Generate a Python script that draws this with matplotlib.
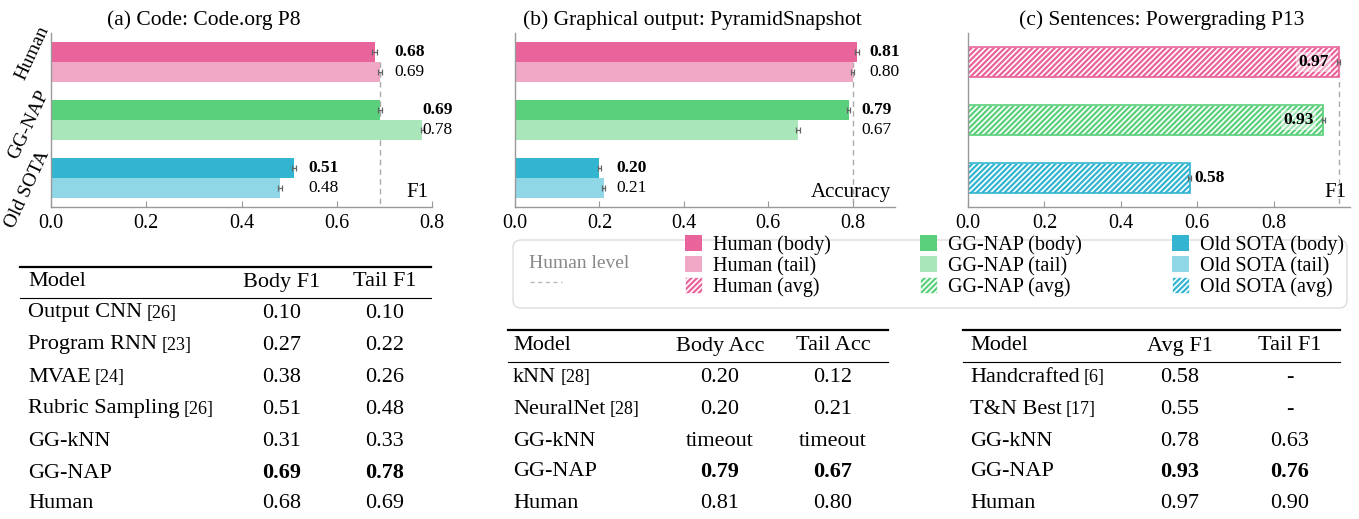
import numpy as np
import matplotlib.pyplot as plt
from matplotlib.patches import Patch, FancyBboxPatch
from matplotlib.lines import Line2D

plt.rcParams['font.family'] = ['Liberation Serif', 'DejaVu Serif']
plt.rcParams['hatch.linewidth'] = 1.2

# ---- data ----
groups = ['Human', 'GG-NAP', 'Old SOTA']
body_colors = ['#e8649a', '#5bd07c', '#33b5d2']
tail_colors = ['#f1a8c7', '#a9e7bb', '#8fd6e6']

code_body = [0.68, 0.69, 0.51]
code_tail = [0.69, 0.78, 0.48]
code_body_err = [0.005, 0.004, 0.005]
code_tail_err = [0.004, 0.003, 0.004]

pyr_body = [0.81, 0.79, 0.20]
pyr_tail = [0.80, 0.67, 0.21]
pyr_body_err = [0.005, 0.004, 0.004]
pyr_tail_err = [0.004, 0.005, 0.004]

pg_avg = [0.97, 0.93, 0.58]
pg_avg_err = [0.004, 0.004, 0.004]

human_level = [0.69, 0.80, 0.97]

# tables
tab_a_models = ['Output CNN', 'Program RNN', 'MVAE', 'Rubric Sampling', 'GG-kNN', 'GG-NAP', 'Human']
tab_a_cites = ['[26]', '[23]', '[24]', '[26]', '', '', '']
tab_a_body = ['0.10', '0.27', '0.38', '0.51', '0.31', '0.69', '0.68']
tab_a_tail = ['0.10', '0.22', '0.26', '0.48', '0.33', '0.78', '0.69']

tab_b_models = ['kNN', 'NeuralNet', 'GG-kNN', 'GG-NAP', 'Human']
tab_b_cites = ['[28]', '[28]', '', '', '']
tab_b_body = ['0.20', '0.20', 'timeout', '0.79', '0.81']
tab_b_tail = ['0.12', '0.21', 'timeout', '0.67', '0.80']

tab_c_models = ['Handcrafted', 'T&N Best', 'GG-kNN', 'GG-NAP', 'Human']
tab_c_cites = ['[6]', '[17]', '', '', '']
tab_c_avg = ['0.58', '0.55', '0.78', '0.93', '0.97']
tab_c_tail = ['-', '-', '0.63', '0.76', '0.90']

W, H = 1359, 519
fig = plt.figure(figsize=(W / 100, H / 100), dpi=100)
HATCH = '/' * 6
ylabel_shift = [-0.15, 0.08, 0.19]   # rotated group labels sit a bit off the group centres


def fx(x):
    return x / W


def fy(y):
    return 1 - y / H


def make_ax(left, right, xmax, title, title_x, xlabel):
    ax = fig.add_axes([fx(left), fy(207), (right - left) / W, (207 - 33) / H])
    ax.set_xlim(0, xmax)
    ax.set_ylim(2.5, -0.5)
    ax.set_xticks([0, 0.2, 0.4, 0.6, 0.8])
    ax.set_xticklabels(['0.0', '0.2', '0.4', '0.6', '0.8'])
    for s in ['top', 'right']:
        ax.spines[s].set_visible(False)
    for s in ['left', 'bottom']:
        ax.spines[s].set_color('#999999')
        ax.spines[s].set_linewidth(1.0)
    ax.tick_params(axis='x', direction='in', length=4, color='#999999', labelsize=14.5, pad=5)
    ax.set_yticks([])
    ax.set_title(title, fontsize=15.5, x=title_x, pad=6)
    ax.text(0.99, 0.03, xlabel, transform=ax.transAxes, ha='right', va='bottom', fontsize=15)
    return ax


err_kw = dict(ecolor='#666666', lw=0.9, capsize=2.2, capthick=0.9)


def paired(ax, body, tail, body_err, tail_err, xmax, level):
    y = np.arange(len(groups))
    h = 0.345
    ax.vlines(level, 0, 2.5, colors='#aaaaaa', linestyles=(0, (4, 3)), lw=1, zorder=0)
    ax.barh(y - h / 2, body, height=h, color=body_colors, xerr=body_err, error_kw=err_kw, zorder=2)
    ax.barh(y + h / 2, tail, height=h, color=tail_colors, xerr=tail_err, error_kw=err_kw, zorder=2)
    for i in range(len(groups)):
        tx = min(max(body[i], tail[i]) + 0.03, xmax - 0.021)
        ax.text(tx, y[i] - h / 2, f'{body[i]:.2f}', ha='left', va='center', fontsize=12.5,
                fontweight='bold', zorder=3)
        ax.text(tx, y[i] + h / 2, f'{tail[i]:.2f}', ha='left', va='center', fontsize=12.5, zorder=3)


# (a)
ax_a = make_ax(51, 432, 0.8, '(a) Code: Code.org P8', 0.40, 'F1')
paired(ax_a, code_body, code_tail, code_body_err, code_tail_err, 0.8, human_level[0])
for i, g in enumerate(groups):
    ax_a.text(0.004, i + ylabel_shift[i], g, transform=ax_a.get_yaxis_transform(), rotation=65,
              ha='right', va='center', fontsize=14, clip_on=False)

# (b)
ax_b = make_ax(515, 895, 0.9, '(b) Graphical output: PyramidSnapshot', 0.466, 'Accuracy')
paired(ax_b, pyr_body, pyr_tail, pyr_body_err, pyr_tail_err, 0.9, human_level[1])

# (c)
ax_c = make_ax(968, 1350, 1.0, '(c) Sentences: Powergrading P13', 0.508, 'F1')
yc = np.arange(len(groups))
hc = 0.52
ax_c.vlines(human_level[2], 0, 2.5, colors='#aaaaaa', linestyles=(0, (4, 3)), lw=1, zorder=0)
ax_c.barh(yc, pg_avg, height=hc, color=body_colors, edgecolor='white', hatch=HATCH, lw=0.5, zorder=2)
ax_c.barh(yc, pg_avg, height=hc, color='none', edgecolor=body_colors, lw=1.2, xerr=pg_avg_err,
          error_kw=err_kw, zorder=2)
for i, v in enumerate(pg_avg):
    if v + 0.1 > 1.0:
        ax_c.text(v - 0.105, yc[i], f'{v:.2f}', ha='left', va='center', fontsize=12.5, fontweight='bold',
                  zorder=3, bbox=dict(facecolor='white', alpha=0.45, edgecolor='none', pad=1.5))
    else:
        ax_c.text(v + 0.013, yc[i], f'{v:.2f}', ha='left', va='center', fontsize=12.5, fontweight='bold',
                  zorder=3)

# ---- legend ----
box = FancyBboxPatch((5.13, (H - 308) / 100), 8.34, 0.68, boxstyle='round,pad=0,rounding_size=0.08',
                     transform=fig.dpi_scale_trans, facecolor='white', edgecolor='#dddddd', lw=1)
fig.add_artist(box)
fig.text(fx(529), fy(263), 'Human level', color='#888888', fontsize=14, ha='left', va='center')
fig.add_artist(Line2D([fx(530), fx(562)], [fy(282), fy(282)], transform=fig.transFigure,
                      color='#bbbbbb', lw=1, linestyle=(0, (3, 2.5))))
leg_x = [685, 920, 1172]
for i, g in enumerate(groups):
    handles = [Patch(facecolor=body_colors[i]), Patch(facecolor=tail_colors[i]),
               Patch(facecolor=body_colors[i], edgecolor='white', hatch=HATCH, lw=0.5)]
    labels = [f'{g} (body)', f'{g} (tail)', f'{g} (avg)']
    fig.legend(handles, labels, loc='upper left', bbox_to_anchor=(fx(leg_x[i]), fy(235)),
               frameon=False, fontsize=14.5, handlelength=0.85, handleheight=0.85,
               handletextpad=0.55, labelspacing=0.05, borderpad=0, borderaxespad=0)


# ---- tables ----
def draw_table(x0, x1, y_top, y_head, y_mid, rows_y, headers, head_x, models, cites, c1, c2, model_x):
    fig.add_artist(Line2D([fx(x0), fx(x1)], [fy(y_top), fy(y_top)], transform=fig.transFigure,
                          color='black', lw=1.6))
    fig.add_artist(Line2D([fx(x0), fx(x1)], [fy(y_mid), fy(y_mid)], transform=fig.transFigure,
                          color='black', lw=0.8))
    fig.text(fx(model_x), fy(y_head), headers[0], fontsize=16, ha='left', va='center')
    fig.text(fx(head_x[0]), fy(y_head), headers[1], fontsize=16, ha='center', va='center')
    fig.text(fx(head_x[1]), fy(y_head), headers[2], fontsize=16, ha='center', va='center')
    for i, m in enumerate(models):
        bold = 'bold' if m == 'GG-NAP' else 'normal'
        t = fig.text(fx(model_x), fy(rows_y[i]), m, fontsize=16, ha='left', va='center')
        if cites[i]:
            plt.annotate(cites[i], xy=(1, 0.22), xycoords=t, xytext=(3, 0), textcoords='offset points',
                         fontsize=13, ha='left', va='baseline', annotation_clip=False)
        fig.text(fx(head_x[0]), fy(rows_y[i]), c1[i], fontsize=16, ha='center', va='center', fontweight=bold)
        fig.text(fx(head_x[1]), fy(rows_y[i]), c2[i], fontsize=16, ha='center', va='center', fontweight=bold)


draw_table(20, 431, 267, 282, 298, [313, 345, 377, 409, 441, 473, 504],
           ['Model', 'Body F1', 'Tail F1'], [282, 385], tab_a_models, tab_a_cites, tab_a_body, tab_a_tail, 28)
draw_table(508, 888, 330, 346, 362, [377, 409, 441, 472, 504],
           ['Model', 'Body Acc', 'Tail Acc'], [720, 833], tab_b_models, tab_b_cites, tab_b_body, tab_b_tail, 513)
draw_table(963, 1340, 330, 346, 362, [377, 409, 441, 472, 504],
           ['Model', 'Avg F1', 'Tail F1'], [1180, 1290], tab_c_models, tab_c_cites, tab_c_avg, tab_c_tail, 970)

fig.savefig('out.png', dpi=100)
